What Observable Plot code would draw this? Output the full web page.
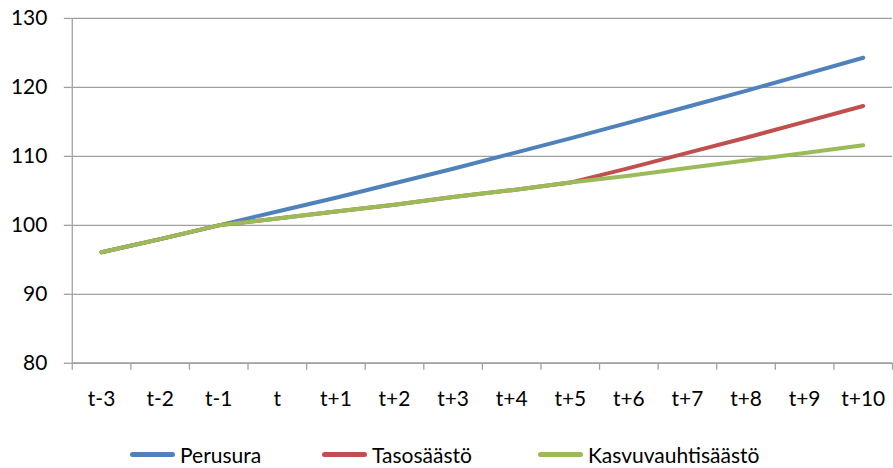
<!DOCTYPE html>
<html>
<head>
<meta charset="utf-8">
<script src="https://cdn.jsdelivr.net/npm/d3@7"></script>
<script src="https://cdn.jsdelivr.net/npm/@observablehq/plot@0.6"></script>
<style>
  html, body { margin: 0; padding: 0; background: #fff; overflow: hidden; width: 893px; height: 468px; }
  #chart { width: 893px; overflow: hidden; }
  #legend { display: flex; align-items: center; height: 38px; font-family: Lato, "Open Sans", sans-serif; font-size: 21px; color: #000; position: relative; }
  .item { position: absolute; display: flex; align-items: center; top: 13px; }
  .sw { width: 45px; height: 5px; border-radius: 3px; margin-right: 5px; }
</style>
</head>
<body>
<div id="chart"></div>
<div id="legend"></div>
<script>
const categories = ["t-3","t-2","t-1","t","t+1","t+2","t+3","t+4","t+5","t+6","t+7","t+8","t+9","t+10"];
const seriesNames = ["Perusura", "Tasosäästö", "Kasvuvauhtisäästö"];
const perusura = [96.1, 98.0, 100.0, 102.0, 104.0, 106.1, 108.2, 110.4, 112.6, 114.9, 117.2, 119.5, 121.9, 124.3];
const tasosaasto = [96.1, 98.0, 100.0, 101.0, 102.0, 103.0, 104.1, 105.1, 106.2, 108.3, 110.5, 112.7, 115.0, 117.3];
const kasvuvauhtisaasto = [96.1, 98.0, 100.0, 101.0, 102.0, 103.0, 104.1, 105.1, 106.2, 107.2, 108.3, 109.4, 110.5, 111.6];
const yTicks = [80, 90, 100, 110, 120, 130];
const colors = ["#4f81bd", "#c0504d", "#9bbb59"];

const seriesValues = [perusura, tasosaasto, kasvuvauhtisaasto];
const idx = categories.map((_, i) => i);
const bounds = categories.map((_, i) => i - 0.5).concat([categories.length - 0.5]);
const rows = seriesNames.map((name, s) => seriesValues[s].map((v, i) => ({name, i, v})));

const font = "Lato, 'Open Sans', sans-serif";
const plot = Plot.plot({
  width: 896,
  height: 430,
  marginLeft: 72,
  marginRight: 1,
  marginTop: 18,
  marginBottom: 66,
  style: {fontFamily: font, fontSize: "21px", color: "#000", background: "#fff"},
  x: {type: "linear", domain: [-0.5, categories.length - 0.5]},
  y: {domain: [80, 130]},
  marks: [
    Plot.gridY(yTicks, {stroke: "#a0a0a0", strokeOpacity: 1, strokeWidth: 1.3}),
    Plot.axisY({ticks: yTicks, tickSize: 8, tickPadding: 17, stroke: "#a0a0a0", strokeWidth: 1.3, label: null, fontSize: 21}),
    Plot.ruleX([-0.5], {stroke: "#a0a0a0", strokeWidth: 1.3}),
    Plot.ruleY([80], {stroke: "#a0a0a0", strokeWidth: 1.3}),
    Plot.axisX({ticks: bounds, tickSize: 7, tickFormat: () => "", stroke: "#a0a0a0", strokeWidth: 1.3, label: null}),
    Plot.axisX({ticks: idx, tickSize: 0, tickPadding: 28, tickFormat: i => categories[i], label: null, fontSize: 21}),
    ...rows.map((r, s) => Plot.line(r, {x: "i", y: "v", stroke: colors[s], strokeWidth: 4, strokeLinecap: "round", strokeLinejoin: "round"}))
  ]
});
document.getElementById("chart").appendChild(plot);

const legendX = [130, 322, 538];
const legend = document.getElementById("legend");
seriesNames.forEach((n, s) => {
  const it = document.createElement("div");
  it.className = "item";
  it.style.left = legendX[s] + "px";
  const sw = document.createElement("div");
  sw.className = "sw";
  sw.style.background = colors[s];
  const t = document.createElement("span");
  t.textContent = n;
  it.appendChild(sw); it.appendChild(t);
  legend.appendChild(it);
});
</script>
</body>
</html>
